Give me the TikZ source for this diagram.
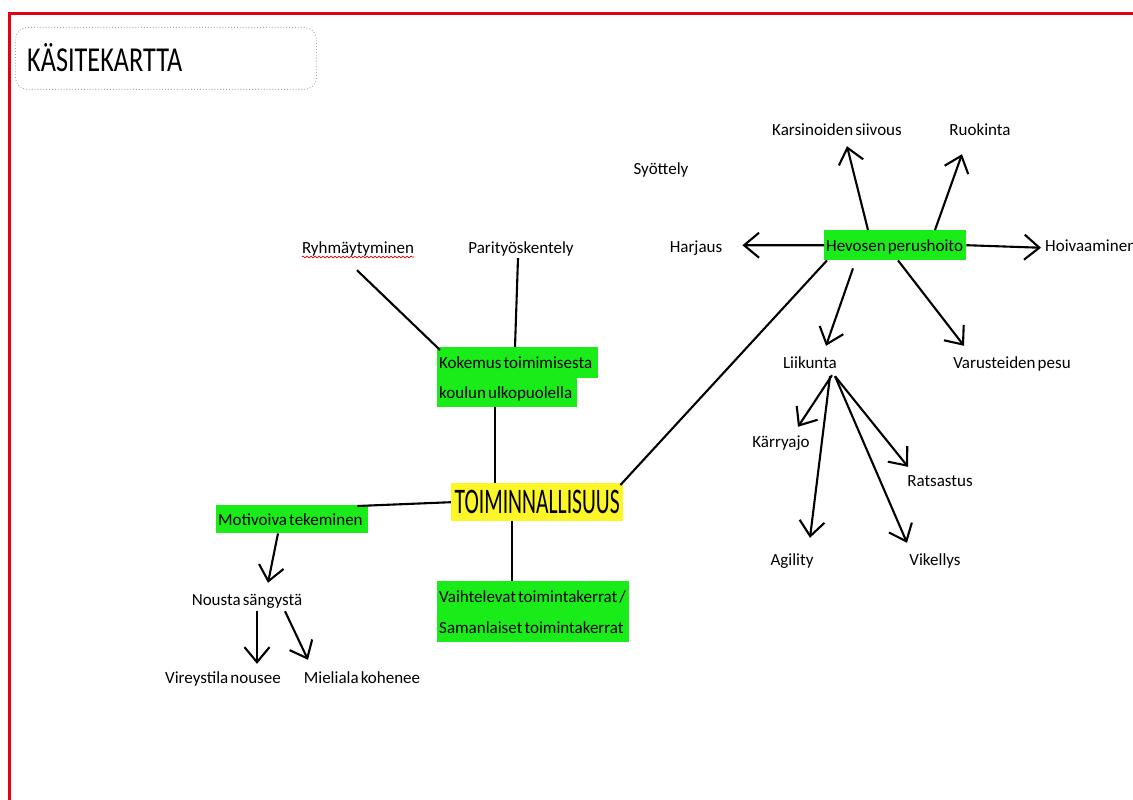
\documentclass[tikz,border=0pt]{standalone}
\usepackage{fontspec}
\usepackage{graphicx}
\setmainfont[WordSpace=0.55]{Carlito}
\usetikzlibrary{arrows.meta,decorations.pathmorphing,calc}
\definecolor{hlgreen}{RGB}{26,236,26}
\definecolor{hlyellow}{RGB}{252,246,40}
\definecolor{framered}{RGB}{226,0,18}
\newcommand{\sqz}[2]{\scalebox{#1}[1]{#2}}
\newcommand{\lft}[2]{\makebox[#1][l]{#2}}
\begin{document}
\begin{tikzpicture}[x=1pt,y=-1pt,
  lbl/.style={font=\fontsize{17}{20}\selectfont, inner sep=0pt, text height=12.5pt, text depth=4pt, anchor=base},
  gline/.style={fill=hlgreen, font=\fontsize{17}{20}\selectfont, inner xsep=2pt, inner ysep=0pt,
     text height=12.5pt, text depth=0pt, anchor=north west},
  con/.style={line width=2.1pt, black},
  arr/.style={con, -{Straight Barb[length=15pt,width=25pt]}},
]
\useasboundingbox (0,0) rectangle (1133,800);
\clip (0,0) rectangle (1133,800);
\fill[white] (0,0) rectangle (1133,800);
% frame
\draw[framered, line width=3pt] (9.5,800) -- (9.5,13.5) -- (1133,13.5);
% title
\node[draw=gray!70, dotted, line width=0.9pt, rounded corners=12pt, minimum width=301pt, minimum height=62pt, anchor=north west, inner sep=0pt] (tbox) at (15,27) {};
\node[anchor=west, inner sep=0pt] (title) at (27,58) {\fontsize{35}{40}\selectfont\sqz{0.75}{KÄSITEKARTTA}};

% boxes
\node[gline, minimum height=31pt] (kok1) at (437,347) {\lft{157pt}{Kokemus toimimisesta}};
\node[gline, minimum height=29pt] (kok2) at (437,378) {\lft{136pt}{koulun ulkopuolella}};
\node[fill=hlyellow, minimum width=172pt, minimum height=38pt, anchor=north west, inner sep=0pt] (toi) at (451,483) {\fontsize{36}{40}\selectfont\sqz{0.6}{TOIMINNALLISUUS}};
\node[gline, minimum height=28pt] (mot) at (216,505) {\lft{148pt}{Motivoiva tekeminen}};
\node[gline, minimum height=31pt] (vai1) at (437,581) {\lft{188pt}{Vaihtelevat toimintakerrat /}};
\node[gline, minimum height=30pt] (vai2) at (437,612) {\lft{188pt}{Samanlaiset toimintakerrat}};
\node[gline, minimum height=30pt] (hev) at (824,230) {\lft{138pt}{Hevosen perushoito}};

% labels
\node[lbl] (ryh) at (358,253) {Ryhmäytyminen};
\node[lbl] (par) at (521,253) {Parityöskentely};
\node[lbl] (syo) at (661,174) {Syöttely};
\node[lbl] (kar) at (837,135) {Karsinoiden siivous};
\node[lbl] (ruo) at (980,135) {Ruokinta};
\node[lbl] (har) at (696,252) {Harjaus};
\node[lbl, anchor=base west] (hoi) at (1045,251) {Hoivaaminen};
\node[lbl] (lii) at (810,368) {Liikunta};
\node[lbl] (var) at (1012,368) {Varusteiden pesu};
\node[lbl] (kry) at (781,447) {Kärryajo};
\node[lbl] (rat) at (940,486) {Ratsastus};
\node[lbl] (agi) at (792,565) {Agility};
\node[lbl] (vik) at (935,565) {Vikellys};
\node[lbl] (nou) at (247,605) {Nousta sängystä};
\node[lbl] (vir) at (223,683) {Vireystila nousee};
\node[lbl] (mie) at (362,683) {Mieliala kohenee};

% spell-check underline
\draw[red!85!black, line width=0.7pt, decorate, decoration={snake, segment length=4pt, amplitude=0.9pt}]
  ($(ryh.base west)+(0,4)$) -- ($(ryh.base east)+(0,4)$);

% plain connectors
\draw[con] ($(ryh.south)+(-1,13)$) -- ($(kok1.north west)+(3,3)$);
\draw[con] ($(par.south)+(-3,1)$) -- ($(kok1.north west)+(78,0)$);
\draw[con] ($(kok2.south west)+(58,0)$) -- ($(toi.north west)+(44,0)$);
\draw[con] (toi.west) -- ($(mot.north east)+(-11,1)$);
\draw[con] ($(toi.south west)+(61,0)$) -- ($(vai1.north west)+(75,0)$);
\draw[con] ($(toi.north east)+(-3,2)$) -- ($(hev.south west)+(3,0)$);

% arrows from Hevosen perushoito
\draw[arr] ($(hev.north west)+(44,0)$) -- ($(kar.south)+(10,7)$);
\draw[arr] ($(hev.north west)+(111,0)$) -- ($(ruo.south)+(-18,15)$);
\draw[arr] (hev.west) -- ($(har.east)+(20,-2.5)$);
\draw[arr] (hev.east) -- ($(hoi.west)+(-4,1)$);
\draw[arr] ($(hev.south west)+(29,8)$) -- ($(lii.north)+(16,-9.5)$);
\draw[arr] ($(hev.south west)+(74,0)$) -- ($(var.north)+(-48,-9.5)$);

% arrows from Liikunta
\draw[arr] ($(lii.south)+(22,3)$) -- ($(kry.north)+(17,-7.5)$);
\draw[arr] ($(lii.south)+(20,4)$) -- ($(agi.north)+(18,-14.5)$);
\draw[arr] ($(lii.south)+(25,4)$) -- ($(rat.north)+(-32,-6.5)$);
\draw[arr] ($(lii.south)+(25,4)$) -- ($(vik.north)+(-28,-9.5)$);

% arrows left side
\draw[arr] ($(mot.south west)+(62,0)$) -- ($(nou.north)+(21,-9.5)$);
\draw[arr] ($(nou.south)+(10,2)$) -- ($(vir.north)+(34,-6.5)$);
\draw[arr] ($(nou.south)+(38,2)$) -- ($(mie.north)+(-54,-10.5)$);
\end{tikzpicture}
\end{document}
